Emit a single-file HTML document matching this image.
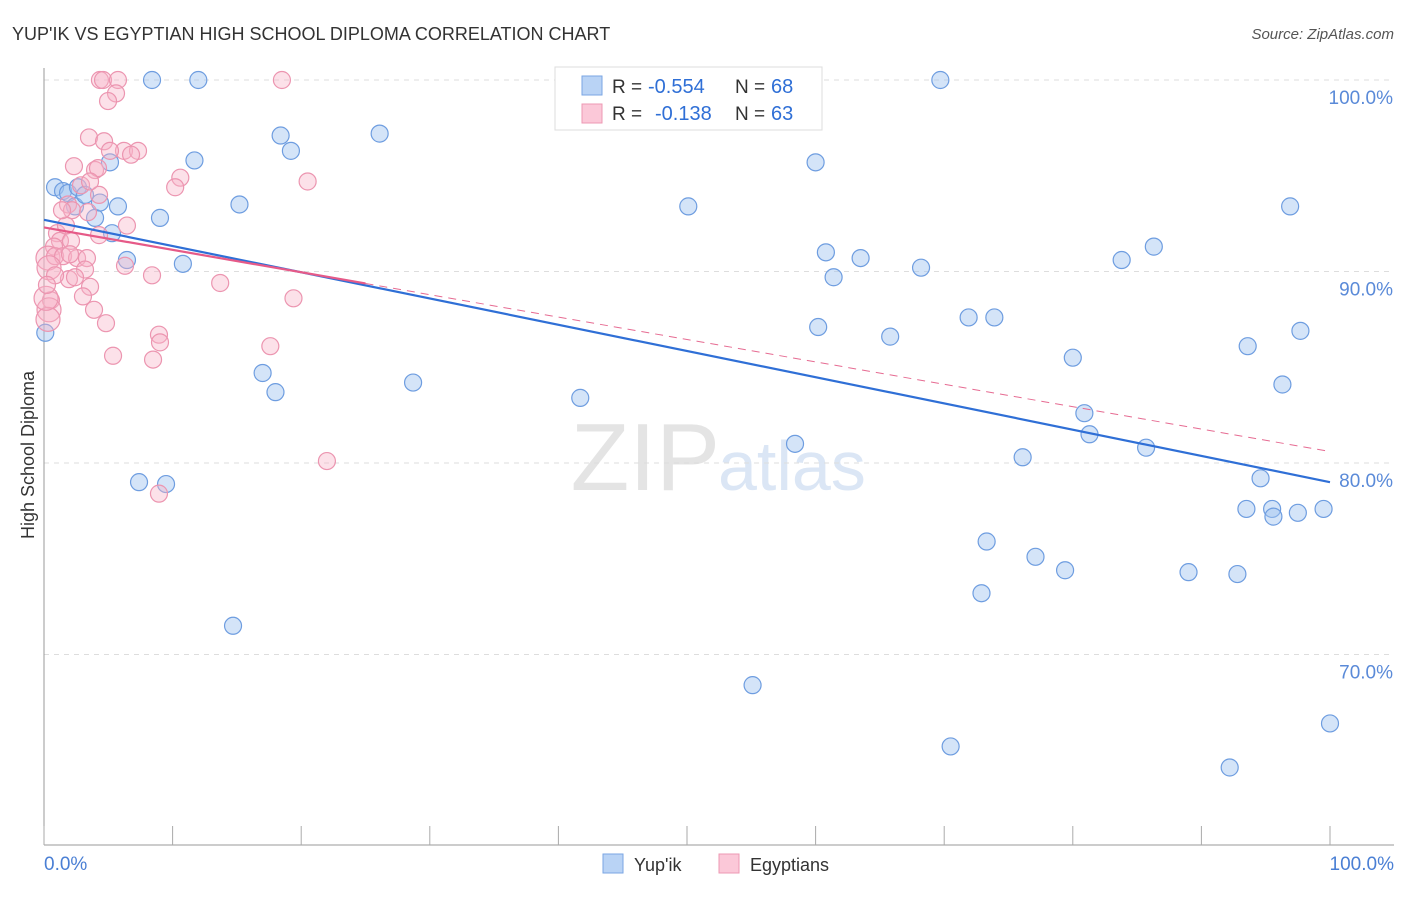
<!DOCTYPE html>
<html><head><meta charset="utf-8"><style>
body{margin:0;background:#fff;font-family:"Liberation Sans",sans-serif;}
svg text{font-family:"Liberation Sans",sans-serif;}
</style></head><body>
<svg id="c" width="1406" height="892">
<text x="12" y="40" font-size="18" fill="#333">YUP'IK VS EGYPTIAN HIGH SCHOOL DIPLOMA CORRELATION CHART</text>
<text x="1394" y="39" font-size="15" fill="#555" font-style="italic" text-anchor="end">Source: ZipAtlas.com</text>
<text x="720" y="490" font-size="96" fill="#e4e4e4" text-anchor="end" font-family="Liberation Serif">ZIP</text>
<text x="718" y="490" font-size="70" fill="#dbe6f5">atlas</text>
<g id="grid"></g>
<g id="axes"></g>
<g id="pts"></g>
<g id="trend"></g>
<text transform="translate(34,455) rotate(-90)" font-size="18" fill="#333" text-anchor="middle">High School Diploma</text>
<text x="44" y="870" font-size="19" fill="#4a7fd4">0.0%</text>
<text x="1394" y="870" font-size="19" fill="#4a7fd4" text-anchor="end">100.0%</text>
<g>
<rect x="555" y="67" width="267" height="63" fill="#fff" stroke="#ddd"/>
<rect x="582" y="76" width="20" height="19" fill="#b9d3f5" stroke="#7aa6e3"/>
<rect x="582" y="104" width="20" height="19" fill="#fbc8d8" stroke="#ee98b3"/>
<text x="612" y="93" font-size="19" fill="#333">R =</text>
<text x="648" y="93" font-size="20" fill="#2f6fd6">-0.554</text>
<text x="735" y="93" font-size="19" fill="#333">N =</text>
<text x="771" y="93" font-size="20" fill="#2f6fd6">68</text>
<text x="612" y="120" font-size="19" fill="#333">R =</text>
<text x="655" y="120" font-size="20" fill="#2f6fd6">-0.138</text>
<text x="735" y="120" font-size="19" fill="#333">N =</text>
<text x="771" y="120" font-size="20" fill="#2f6fd6">63</text>
</g>
<g>
<rect x="603" y="854" width="20" height="19" fill="#b9d3f5" stroke="#7aa6e3"/>
<text x="634" y="871" font-size="18" fill="#333">Yup'ik</text>
<rect x="719" y="854" width="20" height="19" fill="#fbc8d8" stroke="#ee98b3"/>
<text x="750" y="871" font-size="18" fill="#333">Egyptians</text>
</g>
</svg>
<script>
const yTicks=[100,90,80,70];
const yTickLabels=["100.0%","90.0%","80.0%","70.0%"];
const xTicks=[0,10,20,30,40,50,60,70,80,90,100];
const blueX=[0.86,1.48,1.87,2.41,2.64,3.19,3.97,4.35,5.13,5.29,5.75,6.45,7.39,8.4,9.02,9.49,10.8,11.7,12.0,14.7,15.2,17.0,18.0,18.4,19.2,26.1,28.7,41.7,50.1,55.1,58.4,60.0,60.2,60.8,61.4,63.5,65.8,68.2,69.7,70.5,71.9,72.9,73.3,73.9,76.1,77.1,79.4,80.0,80.9,81.3,83.8,85.7,86.3,89.0,92.2,92.8,93.6,93.5,94.6,95.5,95.6,96.3,96.9,97.5,97.7,99.5,100,0.1];
const blueY=[94.4,94.2,94.1,93.4,94.4,94.0,92.8,93.6,95.7,92.0,93.4,90.6,79.0,100,92.8,78.9,90.4,95.8,100,71.5,93.5,84.7,83.7,97.1,96.3,97.2,84.2,83.4,93.4,68.4,81.0,95.7,87.1,91.0,89.7,90.7,86.6,90.2,100,65.2,87.6,73.2,75.9,87.6,80.3,75.1,74.4,85.5,82.6,81.5,90.6,80.8,91.3,74.3,64.1,74.2,86.1,77.6,79.2,77.6,77.2,84.1,93.4,77.4,86.9,77.6,66.4,86.8];
const pinkX=[4.35,4.59,5.75,18.5,5.6,4.98,3.5,4.67,6.22,7.31,6.77,2.33,3.97,4.2,10.6,10.2,20.5,4.28,2.88,1.87,2.18,3.42,6.45,4.28,1.01,1.24,2.1,0.78,0.31,0.86,1.48,2.57,3.34,3.19,0.39,1.94,3.58,3.03,3.89,4.82,0.54,0.39,0.31,0.16,8.4,13.7,19.4,6.3,5.37,8.48,8.94,9.02,17.6,22.0,8.94,2.41,0.86,0.23,1.71,1.4,5.13,3.58,2.02];
const pinkY=[100,100,100,100,99.3,98.9,97.0,96.8,96.3,96.3,96.1,95.5,95.3,95.4,94.9,94.4,94.7,94.0,94.5,93.5,93.2,93.1,92.4,91.9,92.0,91.6,91.6,91.3,90.7,90.8,90.8,90.7,90.7,90.1,90.2,89.6,89.2,88.7,88.0,87.3,88.5,88.0,87.5,88.6,89.8,89.4,88.6,90.3,85.6,85.4,86.7,86.3,86.1,80.1,78.4,89.7,89.8,89.3,92.4,93.2,96.3,94.7,90.9];
const pinkBig=[0.31,0.16,0.39];
const blueTrend=[92.7,79.0];
const pinkTrend=[92.3,80.6];
const NS="http://www.w3.org/2000/svg";
const X=v=>44+v*12.86, Y=v=>80+(100-v)*19.15;
function mk(t,a,p){const e=document.createElementNS(NS,t);for(const k in a)e.setAttribute(k,a[k]);p.appendChild(e);return e;}
const grid=document.getElementById('grid'),axes=document.getElementById('axes'),pts=document.getElementById('pts'),tr=document.getElementById('trend');
yTicks.forEach((t,i)=>{
 const l=mk('line',{x1:44,x2:1394,y1:Y(t),y2:Y(t),stroke:'#ddd','stroke-dasharray':'5,5'},grid);
 
 
 const tx=mk('text',{x:1393,y:Y(t)+24,'font-size':19,fill:'#5a8ad8','text-anchor':'end'},grid);
 tx.textContent=yTickLabels[i];
 
 
});
const ya=mk('line',{x1:44,x2:44,y1:68,y2:845,stroke:'#999'},axes);


const xa=mk('line',{x1:44,x2:1394,y1:845,y2:845,stroke:'#999'},axes);


xTicks.forEach(t=>{
 const l=mk('line',{x1:X(t),x2:X(t),y1:826,y2:845,stroke:'#aaa'},axes);
 
 
});
blueX.forEach((x,i)=>{
 const c=mk('circle',{cx:X(x),cy:Y(blueY[i]),r:8.5,fill:'rgba(160,195,240,0.45)',stroke:'#6e9de0','stroke-width':1.2},pts);
 
 
});
pinkX.forEach((x,i)=>{
 const c=mk('circle',{cx:X(x),cy:Y(pinkY[i]),r:pinkBig.includes(x)?12:8.5,fill:'rgba(248,180,200,0.4)',stroke:'#ec95b0','stroke-width':1.2},pts);
 
 
});
const bl=mk('line',{x1:X(0),y1:Y(blueTrend[0]),x2:X(100),y2:Y(blueTrend[1]),stroke:'#2f6fd6','stroke-width':2.2},tr);


const pe=v=>pinkTrend[0]+(pinkTrend[1]-pinkTrend[0])*v/100;
const pd=mk('line',{x1:X(25),y1:Y(pe(25)),x2:X(100),y2:Y(pe(100)),stroke:'#e66b92','stroke-width':1,'stroke-dasharray':'8,6'},tr);


const ps=mk('line',{x1:X(0),y1:Y(pe(0)),x2:X(25),y2:Y(pe(25)),stroke:'#e65a88','stroke-width':2.2},tr);


</script>
</body></html>
